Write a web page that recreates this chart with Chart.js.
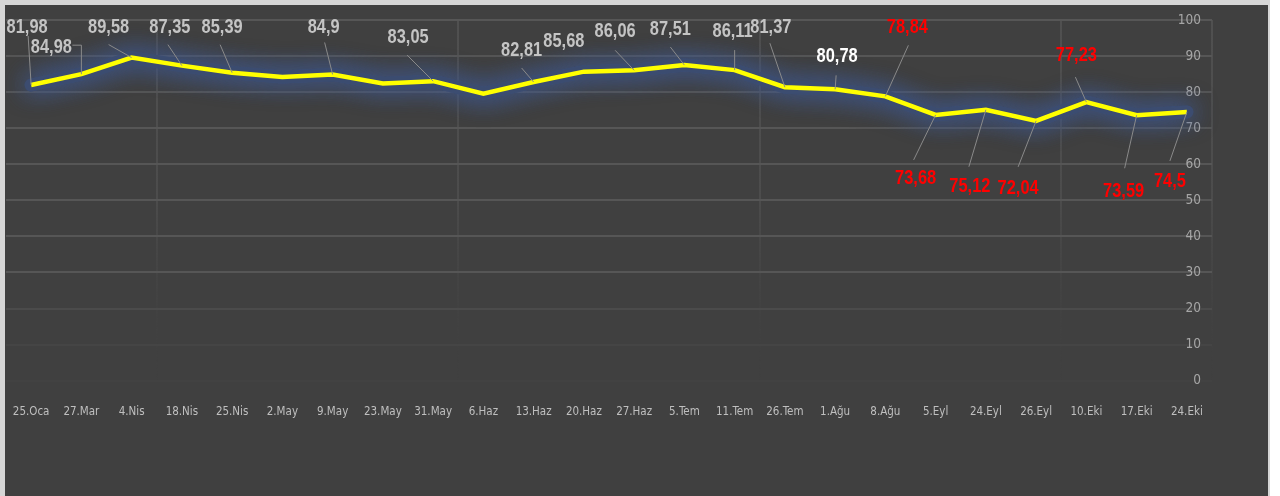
<!DOCTYPE html>
<html>
<head>
    <title>Endeks</title>
    <script src="https://cdn.jsdelivr.net/npm/chart.js"></script>
    <style>
        body { margin: 0; background: #ffffff; }
        #frame { position: absolute; left: 0; top: 0; width: 1270px; height: 496px; background: #d6d6d6; }
        #box { position: absolute; left: 5px; top: 5px; width: 1263px; height: 491px; background: #404040; }
    </style>
</head>
<body>
    <div id="frame">
        <div id="box">
            <canvas id="myChart" width="1263" height="491"></canvas>
        </div>
    </div>
    <script>
        // dates on the x axis
        const dates = ['25.Oca', '27.Mar', '4.Nis', '18.Nis', '25.Nis', '2.May', '9.May', '23.May', '31.May',
            '6.Haz', '13.Haz', '20.Haz', '27.Haz', '5.Tem', '11.Tem', '26.Tem', '1.Ağu', '8.Ağu',
            '5.Eyl', '24.Eyl', '26.Eyl', '10.Eki', '17.Eki', '24.Eki'];

        const values = [81.98, 84.98, 89.58, 87.35, 85.39, 84.2, 84.9, 82.4, 83.05,
            79.6, 82.81, 85.68, 86.06, 87.51, 86.11, 81.37, 80.78, 78.84,
            73.68, 75.12, 72.04, 77.23, 73.59, 74.5];

        // which points carry a value label
        const labelShown = [true, true, true, true, true, false, true, false, true,
            false, true, true, true, true, true, true, true, true,
            true, true, true, true, true, true];

        // y axis ticks
        const yMin = 0;
        const yMax = 100;
        const yStep = 10;

        // label placement relative to the point: text offset, then leader path
        const labelPlace = [
            { t: [-4, -58], lead: [[-3, -49]] },
            { t: [-30, -27], lead: [[-9, -29], [0, -29]] },
            { t: [-23, -30], lead: [[-23, -13]] },
            { t: [-12, -38], lead: [[-14, -21]] },
            { t: [-10, -45], lead: [[-12, -28]] },
            null,
            { t: [-9, -47], lead: [[-8, -32]] },
            null,
            { t: [-25, -44], lead: [[-26, -26]] },
            null,
            { t: [-12, -32], lead: [[-12, -14]] },
            { t: [-20, -30], lead: null },
            { t: [-19, -39], lead: [[-19, -20]] },
            { t: [-14, -36], lead: [[-14, -18]] },
            { t: [-2, -39], lead: [[0, -20]] },
            { t: [-14, -60], lead: [[-15, -44]] },
            { t: [2, -33], lead: [[1, -14]] },
            { t: [22, -69], lead: [[23, -51]] },
            { t: [-20, 64], lead: [[-22, 45]] },
            { t: [-16, 77], lead: [[-17, 57]] },
            { t: [-18, 68], lead: [[-18, 46]] },
            { t: [-10, -47], lead: [[-11, -25]] },
            { t: [-13, 76], lead: [[-12, 53]] },
            { t: [-17, 70], lead: [[-17, 49]] }
        ];

        function labelColor(i) {
            if (i === 16) return '#ffffff';
            if (i >= 17) return '#ff0000';
            return '#c4c4c4';
        }

        // bluish glow under the yellow line
        const glowPlugin = {
            id: 'glow',
            beforeDatasetsDraw(chart) {
                const ctx = chart.ctx;
                const pts = chart.getDatasetMeta(0).data;
                ctx.save();
                ctx.beginPath();
                pts.forEach((p, i) => i === 0 ? ctx.moveTo(p.x, p.y) : ctx.lineTo(p.x, p.y));
                ctx.lineJoin = 'round';
                ctx.lineCap = 'round';
                ctx.shadowColor = 'rgba(62, 88, 145, 1)';
                ctx.shadowBlur = 24;
                ctx.strokeStyle = 'rgba(60, 76, 112, 0.85)';
                ctx.lineWidth = 13;
                ctx.stroke();
                ctx.stroke();
                ctx.restore();
            }
        };

        // value labels with leader lines
        const valueLabels = {
            id: 'valueLabels',
            afterDatasetsDraw(chart) {
                const ctx = chart.ctx;
                const meta = chart.getDatasetMeta(0);
                ctx.save();
                meta.data.forEach((pt, i) => {
                    const place = labelPlace[i];
                    if (!labelShown[i] || !place) return;
                    if (place.lead) {
                        ctx.beginPath();
                        ctx.strokeStyle = '#8a8a8a';
                        ctx.lineWidth = 1;
                        ctx.moveTo(pt.x + place.lead[0][0], pt.y + place.lead[0][1]);
                        place.lead.slice(1).forEach(p => ctx.lineTo(pt.x + p[0], pt.y + p[1]));
                        ctx.lineTo(pt.x, pt.y);
                        ctx.stroke();
                    }
                    // narrow bold look: Arial-metric bold squeezed horizontally
                    ctx.save();
                    ctx.translate(pt.x + place.t[0], pt.y + place.t[1]);
                    ctx.scale(0.82, 1);
                    ctx.font = 'bold 20px "Liberation Sans", Arial, sans-serif';
                    ctx.fillStyle = labelColor(i);
                    ctx.textAlign = 'center';
                    ctx.textBaseline = 'middle';
                    ctx.fillText(String(values[i]).replace('.', ','), 0, 0);
                    ctx.restore();
                });
                ctx.restore();
            }
        };

        var ctx = document.getElementById('myChart').getContext('2d');
        var myChart = new Chart(ctx, {
            type: 'line',
            data: {
                labels: dates,
                datasets: [{
                    data: values,
                    borderColor: '#ffff00',
                    borderWidth: 4.5,
                    pointRadius: 0,
                    tension: 0,
                    fill: false
                }]
            },
            options: {
                responsive: false,
                animation: false,
                layout: { padding: { left: 1, top: 15, right: 56, bottom: 75.5 } },
                plugins: { legend: { display: false }, tooltip: { enabled: false } },
                scales: {
                    x: {
                        offset: true,
                        border: { display: false },
                        grid: {
                            offset: true,
                            drawTicks: true,
                            tickLength: 22,
                            tickColor: 'rgba(0,0,0,0)',
                            lineWidth: 2,
                            color: function (c) {
                                if (c.index !== undefined && c.index % 6 !== 3) return 'rgba(0,0,0,0)';
                                const area = c.chart.chartArea;
                                if (!area) return '#505050';
                                const g = c.chart.ctx.createLinearGradient(0, area.top, 0, area.bottom);
                                g.addColorStop(0, '#505050');
                                g.addColorStop(0.5, '#4c4c4c');
                                g.addColorStop(1, 'rgba(64,64,64,0)');
                                return g;
                            }
                        },
                        ticks: {
                            color: '#bfbfbf',
                            padding: 2,
                            maxRotation: 0,
                            autoSkip: false,
                            font: { family: '"DejaVu Sans Condensed", sans-serif', size: 11.5 }
                        }
                    },
                    y: {
                        position: 'right',
                        min: yMin,
                        max: yMax,
                        border: { display: false },
                        afterFit: function (scale) { scale.width = 0; },
                        grid: {
                            drawTicks: false,
                            lineWidth: 2,
                            color: function (c) {
                                const v = c.tick ? c.tick.value : 100;
                                if (v >= 30) return '#565656';
                                if (v >= 20) return '#4b4b4b';
                                if (v >= 10) return '#454545';
                                return '#424242';
                            }
                        },
                        ticks: {
                            stepSize: yStep,
                            mirror: true,
                            padding: -11,
                            color: '#a6a6a6',
                            font: { family: '"DejaVu Sans Condensed", sans-serif', size: 13.5 }
                        }
                    }
                }
            },
            plugins: [glowPlugin, valueLabels]
        });
    </script>
</body>
</html>
